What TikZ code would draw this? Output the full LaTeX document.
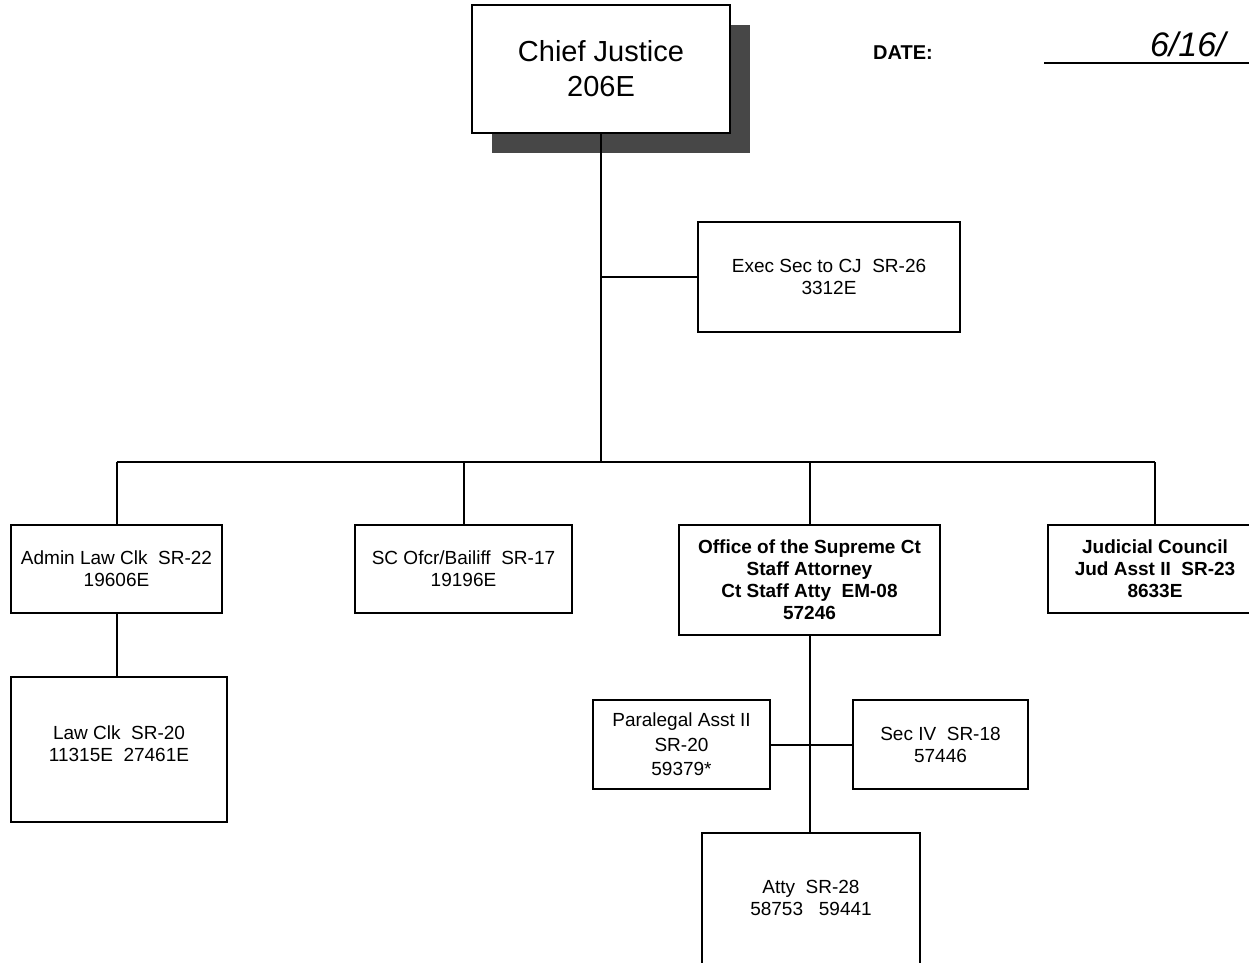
\documentclass[tikz,border=0pt]{standalone}
\usepackage{fontspec}
\setmainfont{Liberation Sans}
\usetikzlibrary{shadows}
\begin{document}
\begin{tikzpicture}[x=0.5pt,y=-0.5pt,
  box/.style={draw, line width=0.9pt, align=center, inner sep=0pt, fill=white,
    font=\fontsize{9.5}{11}\selectfont},
  boldbox/.style={box, font=\fontsize{9.5}{11}\selectfont\bfseries},
  conn/.style={line width=1pt}]
\useasboundingbox (0,0) rectangle (1249,963);
\clip (0,0) rectangle (1249,963);
\fill[white] (0,0) rectangle (1249,963);

% Chief Justice with drop shadow
\node[box, minimum width=129pt, minimum height=64pt,
  font=\fontsize{14.5}{17.5}\selectfont,
  drop shadow={shadow xshift=10pt, shadow yshift=-10pt, fill=black!72, opacity=1}]
  (chief) at (601,69) {Chief Justice\\206E};

% Date
\node[font=\fontsize{10}{12}\selectfont\bfseries] (date) at (903,53) {DATE:};
\coordinate (dl) at (1044,63);
\coordinate (dr) at (1249,63);
\draw[line width=0.8pt] (dl) -- (dr);
\node[font=\fontsize{17}{20}\selectfont\itshape, anchor=west] (hand) at (1143,44) {6/16/};

% Exec Sec
\node[box, minimum width=131pt, minimum height=55pt] (exec) at (829,277)
  {Exec Sec to CJ\ \ SR-26\\3312E};

% Second level
\node[box, minimum width=105.5pt, minimum height=44pt] (admin) at (116.5,569)
  {Admin Law Clk\ \ SR-22\\19606E};
\node[box, minimum width=108.5pt, minimum height=44pt] (sc) at (463.5,569)
  {SC Ofcr/Bailiff\ \ SR-17\\19196E};
\node[boldbox, minimum width=130.5pt, minimum height=55pt] (office) at (809.5,580)
  {Office of the Supreme Ct\\Staff Attorney\\Ct Staff Atty\ \ EM-08\\57246};
\node[boldbox, minimum width=107pt, minimum height=44pt] (jud) at (1155,569)
  {Judicial Council\\Jud Asst II\ \ SR-23\\8633E};

% Third level
\node[box, minimum width=108pt, minimum height=72.5pt] (lawclk) at (119,749.5) {};
\node[font=\fontsize{9.5}{11}\selectfont, align=center] (lawclkt) at (119,744)
  {Law Clk\ \ SR-20\\11315E\ \ 27461E};
\node[box, minimum width=88.5pt, minimum height=44.5pt, font=\fontsize{9.5}{12.2}\selectfont] (para) at (681.5,744.5)
  {Paralegal Asst II\\SR-20\\59379*};
\node[box, minimum width=87.5pt, minimum height=44.5pt] (sec) at (940.5,744.5)
  {Sec IV\ \ SR-18\\57446};
\node[box, minimum width=109pt, minimum height=71pt] (atty) at (811,904) {};
\node[font=\fontsize{9.5}{11}\selectfont, align=center] (attyt) at (811,898)
  {Atty\ \ SR-28\\58753\ \ \ 59441};

% Connectors
\coordinate (junc) at (601,462);
\draw[conn] (chief.south) -- (junc);
\draw[conn] (exec.west) -- (chief.south |- exec.west);
\draw[conn] (admin.north |- junc) -- (jud.north |- junc);
\draw[conn] (admin.north) -- (admin.north |- junc);
\draw[conn] (sc.north) -- (sc.north |- junc);
\draw[conn] (office.north) -- (office.north |- junc);
\draw[conn] (jud.north) -- (jud.north |- junc);
\draw[conn] (admin.south) -- (admin.south |- lawclk.north);
\draw[conn] (office.south) -- (office.south |- atty.north);
\draw[conn] (para.east) -- (sec.west);
\end{tikzpicture}
\end{document}
